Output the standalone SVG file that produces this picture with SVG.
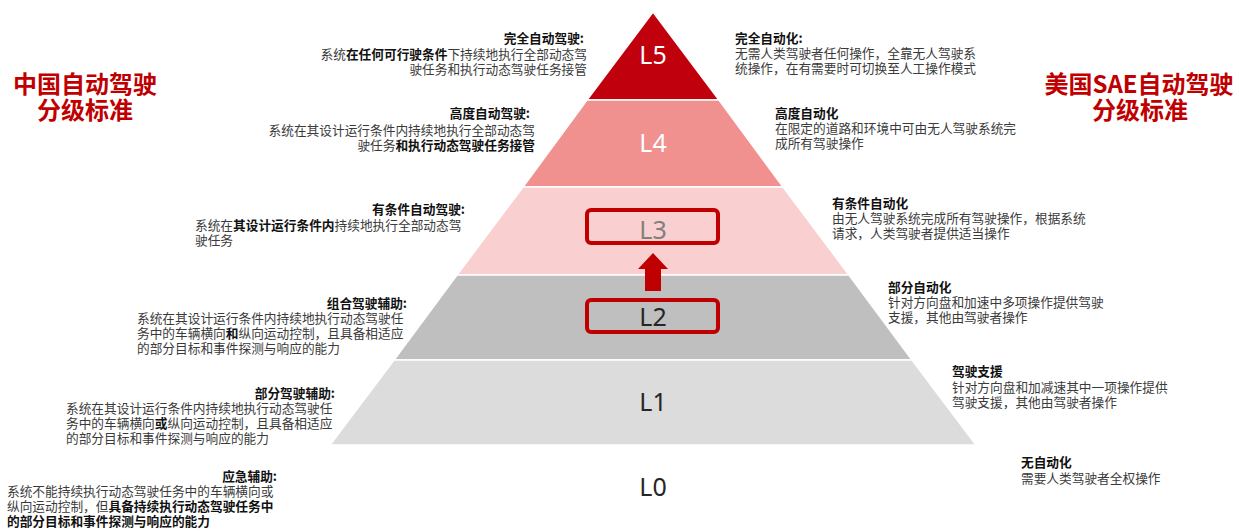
<svg xmlns="http://www.w3.org/2000/svg" width="1239" height="531" viewBox="0 0 1239 531">
<style>
.t{font-family:"Noto Sans CJK SC","Noto Sans",sans-serif;font-size:12.7px;fill:#3a3a3a}
.h{font-weight:bold;fill:#111}
.b{font-weight:bold;fill:#111}
.e{text-anchor:end}
.big{font-family:"Noto Sans CJK SC","Noto Sans",sans-serif;font-size:24px;font-weight:bold;fill:#c00000;text-anchor:middle}
.lv{font-family:"Noto Sans","Liberation Sans",sans-serif;font-size:25px;text-anchor:middle}
.box{fill:none;stroke:#c00000;stroke-width:4}
</style>
<rect width="1239" height="531" fill="#ffffff"/>
<g id="pyramid" stroke="#ffffff" stroke-width="1.5">
<polygon id="band-L5" points="653,12 587,100 719,100" fill="#c0000c"/>
<polygon id="band-L4" points="587,100 719,100 783,187 523,187" fill="#f0908f"/>
<polygon id="band-L3" points="523,187 783,187 849,275 457,275" fill="#f9cfd0"/>
<polygon id="band-L2" points="457,275 849,275 912,360 394,360" fill="#bfbfbf"/>
<polygon id="band-L1" points="394,360 912,360 976,445 330,445" fill="#dcdcdc"/>
</g>
<g id="levels">
<text class="lv" x="653" y="64" fill="#ffffff">L5</text>
<text class="lv" x="653" y="152" fill="#ffffff">L4</text>
<text class="lv" x="653" y="239" fill="#808080">L3</text>
<text class="lv" x="653" y="326" fill="#262626">L2</text>
<text class="lv" x="653" y="411" fill="#262626">L1</text>
<text class="lv" x="653" y="496" fill="#262626">L0</text>
</g>
<g id="connectors">
<rect class="box" x="587" y="210" width="131" height="33" rx="4"/>
<rect class="box" x="587" y="300" width="131" height="32" rx="4"/>
<polygon id="arrow-up" points="653,253 668,269 661,269 661,291 645,291 645,269 638,269" fill="#c00000"/>
</g>
<g id="title-cn">
<text class="big" x="85" y="93">中国自动驾驶</text>
<text class="big" x="85" y="119">分级标准</text>
</g>
<g id="title-us">
<text class="big" x="1139" y="93">美国SAE自动驾驶</text>
<text class="big" x="1140" y="119">分级标准</text>
</g>
<g id="cn-L5">
<text class="t h e" x="584" y="43">完全自动驾驶:</text>
<text class="t e" x="587" y="59">系统<tspan class="b">在任何可行驶条件</tspan>下持续地执行全部动态驾</text>
<text class="t e" x="587" y="74">驶任务和执行动态驾驶任务接管</text>
</g>
<g id="cn-L4">
<text class="t h e" x="530" y="118">高度自动驾驶:</text>
<text class="t e" x="535" y="135">系统在其设计运行条件内持续地执行全部动态驾</text>
<text class="t e" x="535" y="150">驶任务<tspan class="b">和执行动态驾驶任务接管</tspan></text>
</g>
<g id="cn-L3">
<text class="t h e" x="465" y="214">有条件自动驾驶:</text>
<text class="t" x="195" y="230">系统在<tspan class="b">其设计运行条件内</tspan>持续地执行全部动态驾</text>
<text class="t" x="195" y="245">驶任务</text>
</g>
<g id="cn-L2">
<text class="t h e" x="407" y="308">组合驾驶辅助:</text>
<text class="t" x="137" y="323">系统在其设计运行条件内持续地执行动态驾驶任</text>
<text class="t" x="137" y="338">务中的车辆横向<tspan class="b">和</tspan>纵向运动控制，且具备相适应</text>
<text class="t" x="137" y="353">的部分目标和事件探测与响应的能力</text>
</g>
<g id="cn-L1">
<text class="t h e" x="335" y="398">部分驾驶辅助:</text>
<text class="t" x="66" y="413">系统在其设计运行条件内持续地执行动态驾驶任</text>
<text class="t" x="66" y="428">务中的车辆横向<tspan class="b">或</tspan>纵向运动控制，且具备相适应</text>
<text class="t" x="66" y="443">的部分目标和事件探测与响应的能力</text>
</g>
<g id="cn-L0">
<text class="t h e" x="277" y="481">应急辅助:</text>
<text class="t" x="7" y="496">系统不能持续执行动态驾驶任务中的车辆横向或</text>
<text class="t" x="7" y="511">纵向运动控制，但<tspan class="b">具备持续执行动态驾驶任务中</tspan></text>
<text class="t b" x="7" y="526">的部分目标和事件探测与响应的能力</text>
</g>
<g id="us-L5">
<text class="t h" x="735" y="43">完全自动化:</text>
<text class="t" x="735" y="58">无需人类驾驶者任何操作，全靠无人驾驶系</text>
<text class="t" x="735" y="73">统操作，在有需要时可切换至人工操作模式</text>
</g>
<g id="us-L4">
<text class="t h" x="775" y="118">高度自动化</text>
<text class="t" x="775" y="133">在限定的道路和环境中可由无人驾驶系统完</text>
<text class="t" x="775" y="148">成所有驾驶操作</text>
</g>
<g id="us-L3">
<text class="t h" x="832" y="208">有条件自动化</text>
<text class="t" x="832" y="223">由无人驾驶系统完成所有驾驶操作，根据系统</text>
<text class="t" x="832" y="238">请求，人类驾驶者提供适当操作</text>
</g>
<g id="us-L2">
<text class="t h" x="888" y="292">部分自动化</text>
<text class="t" x="888" y="307">针对方向盘和加速中多项操作提供驾驶</text>
<text class="t" x="888" y="322">支援，其他由驾驶者操作</text>
</g>
<g id="us-L1">
<text class="t h" x="952" y="376">驾驶支援</text>
<text class="t" x="952" y="392">针对方向盘和加减速其中一项操作提供</text>
<text class="t" x="952" y="407">驾驶支援，其他由驾驶者操作</text>
</g>
<g id="us-L0">
<text class="t h" x="1021" y="467">无自动化</text>
<text class="t" x="1021" y="483">需要人类驾驶者全权操作</text>
</g>
</svg>
